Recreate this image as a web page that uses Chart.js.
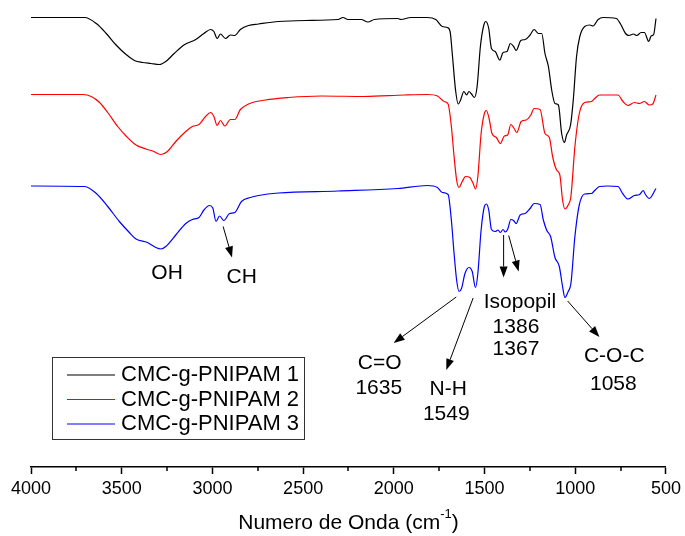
<!DOCTYPE html>
<html>
<head>
<meta charset="utf-8">
<script src="https://cdn.jsdelivr.net/npm/chart.js@4.4.1/dist/chart.umd.min.js"></script>
<style>
  body { margin: 0; background: #fff; }
</style>
</head>
<body>
<canvas id="ftir" width="685" height="536"></canvas>
<script>
// wavenumbers (cm-1) and offset transmittance
const waveBlack = [4000,3704,3640,3585,3531,3476,3430,3385,3339,3293,3257,3211,3157,3092,3047,3010,2992,2974,2956,2928,2901,2877,2846,2801,2746,2636,2490,2308,2280,2253,2180,2143,2107,1979,1961,1906,1815,1769,1733,1705,1690,1678,1660,1645,1632,1614,1599,1586,1572,1556,1541,1523,1504,1493,1477,1462,1441,1416,1398,1376,1358,1340,1326,1300,1276,1249,1227,1203,1185,1167,1148,1130,1112,1093,1075,1060,1048,1026,1011,993,975,948,920,902,874,847,774,752,723,704,679,661,637,619,595,582,568,555]
const transBlack = [89.9,89.9,88.7,86.7,84.4,82.5,81.3,80.9,80.7,80.5,81.1,82.7,84.4,85.5,86.7,87.5,87.1,85.7,86.6,85.7,86.4,86.3,87.5,88.3,88.6,89.1,89.3,89.5,89.9,89.5,89.5,89.0,89.5,89.7,89.5,89.9,89.9,89.5,88.1,87.9,87.1,82.7,75.4,72.6,73.4,75.1,74.4,75.1,74.6,73.9,76.1,84.1,88.4,89.1,87.7,83.7,83.1,81.4,82.9,83.1,84.7,84.1,83.3,85.3,85.5,86.4,87.5,86.7,86.7,82.7,80.1,75.4,72.7,72.4,66.7,64.9,66.4,68.4,73.4,82.1,86.1,88.1,88.4,88.2,89.5,89.9,89.7,88.7,86.7,86.3,86.6,86.3,86.9,86.9,85.1,86.2,86.5,89.7]

const waveRed = [4000,3714,3668,3622,3577,3522,3476,3421,3366,3330,3284,3248,3202,3147,3111,3074,3038,3010,2992,2974,2956,2932,2901,2877,2846,2801,2709,2581,2399,2161,1942,1815,1760,1723,1701,1683,1668,1654,1641,1623,1605,1581,1563,1550,1537,1519,1501,1490,1475,1459,1435,1413,1391,1373,1355,1337,1322,1298,1271,1245,1227,1194,1167,1143,1125,1103,1085,1070,1057,1039,1024,1002,978,948,911,893,866,765,737,710,674,646,619,592,573,555]
const transRed = [74.5,74.5,74.1,72.9,70.9,68.1,66.2,64.4,63.6,63.2,62.5,63.1,65.1,67.1,68.1,68.5,70.1,70.9,70.1,68.3,69.3,68.2,69.5,69.5,71.5,72.6,73.4,73.9,74.2,74.1,74.4,74.5,74.2,73.1,72.6,68.1,62.1,57.4,55.9,57.1,58.1,57.9,56.7,55.6,58.1,66.7,70.7,71.3,69.7,66.7,65.9,64.7,66.2,66.4,68.5,67.7,66.9,69.1,69.4,70.4,71.7,71.5,66.7,65.9,62.1,59.4,58.4,53.4,51.6,52.4,54.1,64.1,70.7,72.9,73.1,73.7,74.4,74.4,73.1,72.3,72.9,72.7,73.1,72.4,72.6,74.4]

const waveBlue = [4000,3704,3640,3577,3513,3458,3421,3358,3312,3284,3257,3202,3147,3111,3074,3047,3016,2998,2980,2961,2937,2906,2877,2840,2791,2746,2636,2308,1979,1815,1760,1733,1701,1683,1668,1654,1641,1627,1608,1586,1568,1550,1537,1519,1501,1490,1477,1462,1441,1426,1413,1398,1386,1373,1355,1340,1326,1304,1276,1249,1227,1194,1176,1157,1136,1112,1088,1070,1057,1039,1024,1002,978,948,911,893,866,820,765,737,710,674,646,625,615,592,555]
const transBlue = [56.2,56.1,54.7,52.1,49.1,46.9,45.6,44.9,43.9,43.6,44.1,46.4,48.7,49.5,49.9,51.4,52.3,51.8,49.1,50.2,49.3,50.7,50.9,53.1,53.9,54.3,54.8,55.2,55.7,56.3,55.9,54.9,54.5,49.4,42.7,37.4,35.1,35.7,38.7,39.9,39.1,35.9,38.7,47.4,52.1,52.6,51.4,47.5,47.1,47.4,46.9,47.5,47.0,47.5,49.5,49.3,48.7,50.4,50.7,51.7,52.7,52.5,49.4,47.3,46.1,41.9,40.1,36.1,33.9,35.1,36.7,46.1,52.4,54.6,54.7,55.3,56.1,56.2,56.1,54.6,53.6,54.3,54.5,55.3,54.6,53.7,55.7]

const seriesNames = ['CMC-g-PNIPAM 1', 'CMC-g-PNIPAM 2', 'CMC-g-PNIPAM 3']
const seriesColors = ['#000000', '#ff0000', '#0000ff']

// band labels: [text, wavenumber, value]
const bandLabels = [
  ['OH', 3250, 38.8],
  ['CH', 2839, 38.0],
  ['C=O', 2078, 20.8],
  ['1635', 2083, 15.8],
  ['N-H', 1700, 15.6],
  ['1549', 1711, 10.6],
  ['Isopopil', 1305, 33.0],
  ['1386', 1327, 28.0],
  ['1367', 1327, 23.6],
  ['C-O-C', 785, 22.2],
  ['1058', 790, 16.6]
]
// arrows: [from wavenumber, from value, to wavenumber, to value]
const bandArrows = [
  [2941, 48.1, 2892, 41.9],
  [1395, 46.4, 1395, 37.9],
  [1367, 46.3, 1312, 39.1],
  [1656, 34.0, 2001, 24.8],
  [1563, 33.8, 1711, 19.4],
  [1042, 33.2, 867, 26.0]
]

const FONT = '"Liberation Sans", Arial, sans-serif'

function toPoints(xs, ys) {
  return xs.map((x, i) => ({ x: x, y: ys[i] }))
}

function arrow(ctx, x1, y1, x2, y2) {
  const ang = Math.atan2(y2 - y1, x2 - x1)
  const len = 11, half = 4
  ctx.beginPath()
  ctx.moveTo(x1, y1)
  ctx.lineTo(x2 - Math.cos(ang) * len, y2 - Math.sin(ang) * len)
  ctx.stroke()
  ctx.beginPath()
  ctx.moveTo(x2, y2)
  ctx.lineTo(x2 - Math.cos(ang) * len - Math.sin(ang) * half, y2 - Math.sin(ang) * len + Math.cos(ang) * half)
  ctx.lineTo(x2 - Math.cos(ang) * len + Math.sin(ang) * half, y2 - Math.sin(ang) * len - Math.cos(ang) * half)
  ctx.closePath()
  ctx.fill()
}

const extras = {
  id: 'extras',
  afterDraw(chart) {
    const ctx = chart.ctx
    const xs = chart.scales.x, ys = chart.scales.y
    const area = chart.chartArea
    ctx.save()

    // minor ticks
    ctx.strokeStyle = '#000'
    ctx.lineWidth = 1.5
    for (let v = 750; v < 4000; v += 500) {
      const px = Math.round(xs.getPixelForValue(v))
      ctx.beginPath()
      ctx.moveTo(px, area.bottom)
      ctx.lineTo(px, area.bottom + 4)
      ctx.stroke()
    }

    // band labels
    ctx.fillStyle = '#000'
    ctx.font = '21px ' + FONT
    ctx.textAlign = 'center'
    ctx.textBaseline = 'middle'
    bandLabels.forEach(b => {
      ctx.fillText(b[0], xs.getPixelForValue(b[1]), ys.getPixelForValue(b[2]))
    })

    // arrows
    ctx.lineWidth = 1
    bandArrows.forEach(a => {
      arrow(ctx, xs.getPixelForValue(a[0]), ys.getPixelForValue(a[1]),
        xs.getPixelForValue(a[2]), ys.getPixelForValue(a[3]))
    })

    // legend box
    const lx = area.left + 21, ly = area.bottom - 110
    ctx.strokeStyle = '#333'
    ctx.lineWidth = 1
    ctx.strokeRect(lx + 0.5, ly + 0.5, 252, 82)
    ctx.font = '22px ' + FONT
    ctx.textAlign = 'left'
    seriesNames.forEach((name, i) => {
      const y = ly + 18 + i * 24.5
      ctx.strokeStyle = seriesColors[i]
      ctx.lineWidth = 1.2
      ctx.beginPath()
      ctx.moveTo(lx + 15, y)
      ctx.lineTo(lx + 63, y)
      ctx.stroke()
      ctx.fillStyle = '#000'
      ctx.fillText(name, lx + 69, y)
    })

    // axis title with superscript
    const main = 'Numero de Onda (cm'
    const sup = '-1'
    const tail = ')'
    ctx.font = '21px ' + FONT
    const w1 = ctx.measureText(main).width
    const w3 = ctx.measureText(tail).width
    ctx.font = '13px ' + FONT
    const w2 = ctx.measureText(sup).width
    let tx = (area.left + area.right) / 2 - (w1 + w2 + w3) / 2
    const ty = 523
    ctx.font = '21px ' + FONT
    ctx.fillText(main, tx, ty)
    ctx.font = '13px ' + FONT
    ctx.fillText(sup, tx + w1, ty - 9)
    ctx.font = '21px ' + FONT
    ctx.fillText(tail, tx + w1 + w2, ty)

    ctx.restore()
  }
}

const datasets = [
  [waveBlack, transBlack],
  [waveRed, transRed],
  [waveBlue, transBlue]
].map((s, i) => ({
  label: seriesNames[i],
  data: toPoints(s[0], s[1]),
  borderColor: seriesColors[i],
  borderWidth: 1.2,
  pointRadius: 0,
  fill: false,
  cubicInterpolationMode: 'monotone'
}))

const ftirChart = new Chart(document.getElementById('ftir'), {
  type: 'line',
  data: { datasets: datasets },
  options: {
    responsive: false,
    animation: false,
    layout: { padding: { left: 31, right: 15, top: 7, bottom: 0 } },
    plugins: {
      legend: { display: false },
      tooltip: { enabled: false }
    },
    scales: {
      x: {
        type: 'linear',
        reverse: true,
        min: 500,
        max: 4000,
        afterFit(scale) { scale.height = 69 },
        border: { display: true, color: '#000', width: 1.5 },
        grid: {
          drawOnChartArea: false,
          drawTicks: true,
          tickLength: 7,
          tickWidth: 1.5,
          tickColor: '#000'
        },
        ticks: {
          stepSize: 500,
          color: '#000',
          font: { family: FONT, size: 18 },
          padding: 4,
          maxRotation: 0,
          autoSkip: false,
          callback: v => String(v)
        }
      },
      y: {
        display: false,
        min: 0,
        max: 92
      }
    }
  },
  plugins: [extras]
});
</script>
</body>
</html>
